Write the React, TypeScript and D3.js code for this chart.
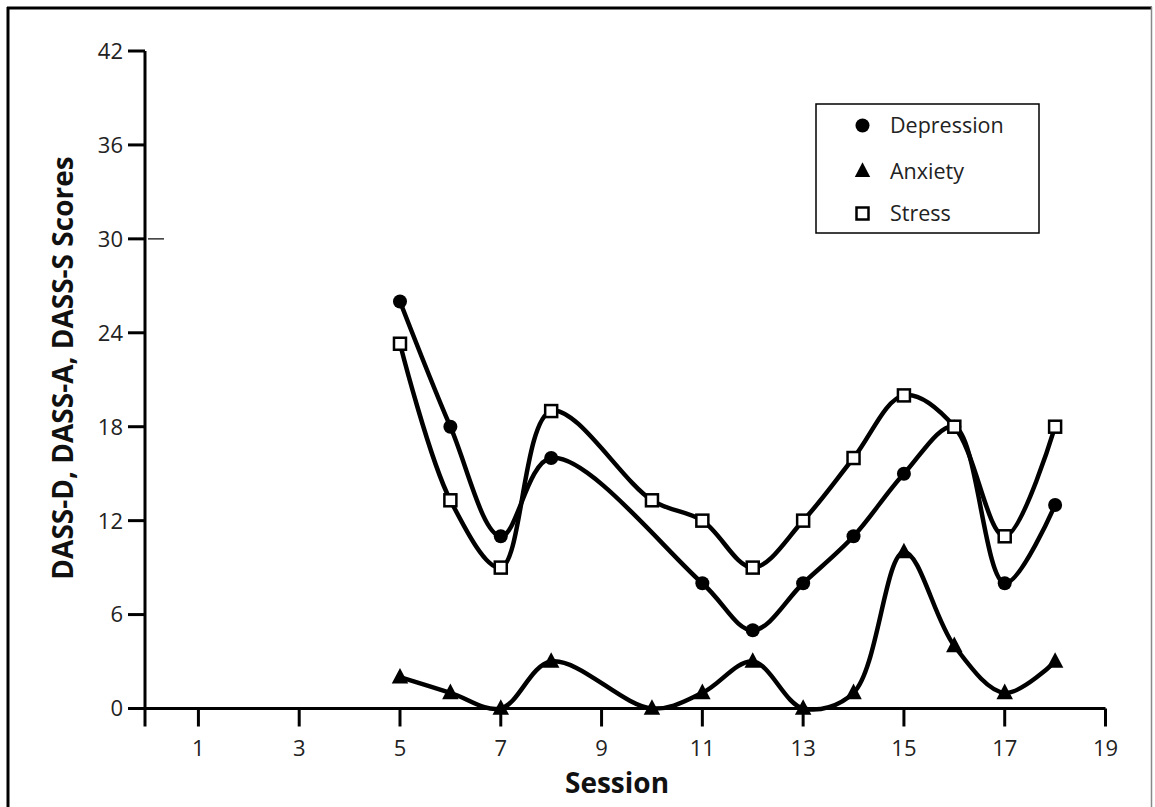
import * as d3 from "d3";

// sessions + scores
const depSessions = [5, 6, 7, 8, 11, 12, 13, 14, 15, 16, 17, 18];
const depValues = [26, 18, 11, 16, 8, 5, 8, 11, 15, 18, 8, 13];

const anxSessions = [5, 6, 7, 8, 10, 11, 12, 13, 14, 15, 16, 17, 18];
const anxValues = [2, 1, 0, 3, 0, 1, 3, 0, 1, 10, 4, 1, 3];

const strSessions = [5, 6, 7, 8, 10, 11, 12, 13, 14, 15, 16, 17, 18];
const strValues = [23.3, 13.3, 9, 19, 13.3, 12, 9, 12, 16, 20, 18, 11, 18];

const xTicks = [1, 3, 5, 7, 9, 11, 13, 15, 17, 19];
const yTicks = [0, 6, 12, 18, 24, 30, 36, 42];
const legendLabels = ["Depression", "Anxiety", "Stress"];

const width = 1155;
const height = 807;
const font = "'Open Sans', sans-serif";

export default function App() {
  const xScale = d3.scaleLinear().domain([-0.06, 19]).range([145, 1105.5]);
  const yScale = d3.scaleLinear().domain([0, 42]).range([708.5, 51]);

  const line = d3
    .line<[number, number]>()
    .x((d) => xScale(d[0]))
    .y((d) => yScale(d[1]))
    .curve(d3.curveCatmullRom.alpha(0.5));

  const dep = depSessions.map((s, i) => [s, depValues[i]] as [number, number]);
  const anx = anxSessions.map((s, i) => [s, anxValues[i]] as [number, number]);
  const str = strSessions.map((s, i) => [s, strValues[i]] as [number, number]);

  const tri = (cx: number, cy: number, s: number) =>
    `M${cx},${cy - s * 0.62}L${cx + s * 0.55},${cy + s * 0.42}L${cx - s * 0.55},${cy + s * 0.42}Z`;

  const x0 = xScale.range()[0];
  const y0 = yScale(0);

  // legend
  const lgRows = [125.5, 171, 213.5];

  return (
    <svg
      width={width}
      height={height}
      style={{ position: "absolute", left: 0, top: 0, background: "#fff" }}
    >
      {/* frame */}
      <line x1={7} x2={1152} y1={8} y2={8} stroke="#000" strokeWidth={3} />
      <line x1={8} x2={8} y1={7} y2={height} stroke="#000" strokeWidth={3} />
      <line x1={1151.5} x2={1151.5} y1={7} y2={height} stroke="#888" strokeWidth={1.5} />

      {/* curves */}
      <path d={line(str) ?? ""} fill="none" stroke="#000" strokeWidth={4.5} />
      <path d={line(dep) ?? ""} fill="none" stroke="#000" strokeWidth={4.5} />
      <path d={line(anx) ?? ""} fill="none" stroke="#000" strokeWidth={4.5} />

      {/* axes */}
      <line x1={x0} x2={x0} y1={yScale(42)} y2={y0} stroke="#000" strokeWidth={3} />
      <line x1={x0} x2={xScale(19)} y1={y0} y2={y0} stroke="#000" strokeWidth={3} />
      <line x1={x0} x2={x0} y1={y0} y2={y0 + 18} stroke="#000" strokeWidth={3} />

      {yTicks.map((t) => (
        <g key={t} transform={`translate(${x0}, ${yScale(t)})`}>
          <line x1={-17} x2={0} stroke="#000" strokeWidth={3} />
          <text x={-22} dy="0.36em" textAnchor="end" fontSize={22} fontFamily={font} fill="#222">
            {t}
          </text>
        </g>
      ))}
      {/* stray tick mark right of axis at 30 */}
      <line x1={x0 + 3} x2={x0 + 19} y1={yScale(30)} y2={yScale(30)} stroke="#333" strokeWidth={1.5} />

      {xTicks.map((t) => (
        <g key={t} transform={`translate(${xScale(t)}, ${y0})`}>
          <line y2={18} stroke="#000" strokeWidth={3} />
          <text y={47} textAnchor="middle" fontSize={22} fontFamily={font} fill="#222">
            {t}
          </text>
        </g>
      ))}

      {/* axis titles */}
      <text x={617} y={793} textAnchor="middle" fontSize={28} fontWeight="bold" fontFamily={font} fill="#111">
        Session
      </text>
      <text
        transform={`translate(73, 368) rotate(-90)`}
        textAnchor="middle"
        fontSize={28}
        fontWeight="bold"
        fontFamily={font}
        fill="#111"
      >
        DASS-D, DASS-A, DASS-S Scores
      </text>

      {/* markers */}
      {anx.map((d, i) => (
        <path key={"a" + i} d={tri(xScale(d[0]), yScale(d[1]), 15)} fill="#000" />
      ))}
      {dep.map((d, i) => (
        <circle key={"d" + i} cx={xScale(d[0])} cy={yScale(d[1])} r={7} fill="#000" />
      ))}
      {str.map((d, i) => (
        <rect
          key={"s" + i}
          x={xScale(d[0]) - 6}
          y={yScale(d[1]) - 6}
          width={12}
          height={12}
          fill="#fff"
          stroke="#000"
          strokeWidth={2.5}
        />
      ))}

      {/* legend */}
      <rect x={816} y={104} width={223} height={129} fill="#fff" stroke="#000" strokeWidth={1.5} />
      <circle cx={862.5} cy={lgRows[0]} r={7} fill="#000" />
      <path d={tri(862.5, lgRows[1], 14)} fill="#000" />
      <rect x={856.5} y={lgRows[2] - 6} width={12} height={12} fill="#fff" stroke="#000" strokeWidth={2.5} />
      {legendLabels.map((l, i) => (
        <text key={l} x={890} y={lgRows[i]} dy="0.36em" fontSize={21.5} fontFamily={font} fill="#222">
          {l}
        </text>
      ))}
    </svg>
  );
}
